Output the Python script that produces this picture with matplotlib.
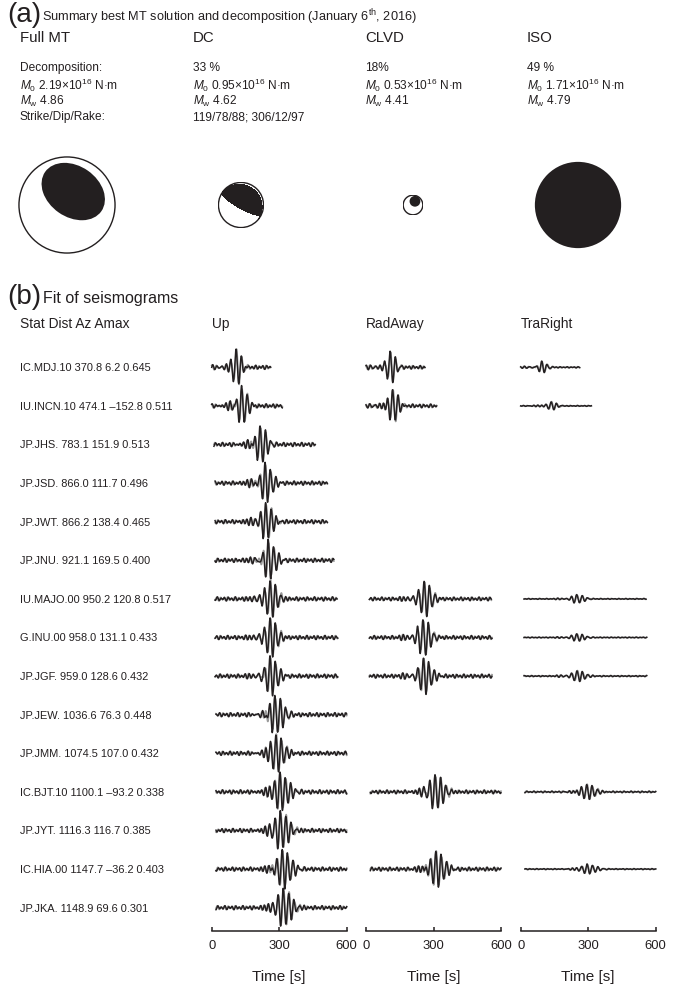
import numpy as np
import matplotlib.pyplot as plt
from matplotlib.patches import Circle, Ellipse

plt.rcParams['font.family'] = ['Liberation Sans', 'DejaVu Sans']
plt.rcParams['mathtext.fontset'] = 'custom'
plt.rcParams['mathtext.rm'] = 'Liberation Sans'
plt.rcParams['mathtext.it'] = 'Liberation Sans:italic'

INK = '#231f20'
SYN = '#9a9a9a'

# ---- (a) decomposition summary ----
components = ["Full MT", "DC", "CLVD", "ISO"]
decomposition = ["Decomposition:", "33 %", "18%", "49 %"]
m0 = [2.19, 0.95, 0.53, 1.71]          # x 10^16 N.m
mw = [4.86, 4.62, 4.41, 4.79]
sdr_text = "119/78/88; 306/12/97"
dc_strike, dc_dip, dc_rake = 119, 78, 88

# ---- (b) stations ----
stations = ["IC.MDJ.10", "IU.INCN.10", "JP.JHS.", "JP.JSD.", "JP.JWT.", "JP.JNU.",
            "IU.MAJO.00", "G.INU.00", "JP.JGF.", "JP.JEW.", "JP.JMM.", "IC.BJT.10",
            "JP.JYT.", "IC.HIA.00", "JP.JKA."]
dist = [370.8, 474.1, 783.1, 866.0, 866.2, 921.1, 950.2, 958.0, 959.0,
        1036.6, 1074.5, 1100.1, 1116.3, 1147.7, 1148.9]
azim = [6.2, -152.8, 151.9, 111.7, 138.4, 169.5, 120.8, 131.1, 128.6,
        76.3, 107.0, -93.2, 116.7, -36.2, 69.6]
amax = [0.645, 0.511, 0.513, 0.496, 0.465, 0.400, 0.517, 0.433, 0.432,
        0.448, 0.432, 0.338, 0.385, 0.403, 0.301]

# time windows [s], arrival and duration of the main wave packet per component
win_start = [0, 0, 10, 15, 15, 15, 15, 15, 15, 19, 19, 19, 19, 19, 19]
win_end = [262, 314, 460, 514, 514, 543, 557, 560, 560, 600, 600, 600, 600, 600, 600]
packet_width = [18, 20, 22, 24, 24, 25, 25, 25, 26, 28, 28, 30, 30, 30, 30]
nan = np.nan
peak_up = [108, 133, 215, 237, 240, 251, 259, 259, 259, 281, 285, 303, 305, 313, 318]
peak_rad = [107, 118, nan, nan, nan, nan, 258, 253, 255, nan, nan, 307, nan, 310, nan]
peak_tra = [93, 135, nan, nan, nan, nan, 249, 249, 250, nan, nan, 293, nan, 295, nan]
amp_up = [1.0] * 15
amp_rad = [0.85, 0.9, nan, nan, nan, nan, 0.9, 0.95, 0.95, nan, nan, 0.9, nan, 0.95, nan]
amp_tra = [0.3, 0.22, nan, nan, nan, nan, 0.22, 0.2, 0.3, nan, nan, 0.4, nan, 0.25, nan]

W, H = 683, 987
fig = plt.figure(figsize=(W / 100, H / 100), dpi=100)


def fx(x):
    return x / W


def fy(y):
    return 1 - y / H


def txt(x, y, s, size, ha='left'):
    fig.text(fx(x), fy(y), s, fontsize=size, va='center', ha=ha, color=INK)


# headline (a)
txt(7, 15, "(a)", 20)
txt(42, 17, r"Summary best MT solution and decomposition (January 6$^{\rm th}$, 2016)", 9.2)

col_x = [20, 193, 365, 527]
for i, cx in enumerate(col_x):
    txt(cx, 38, components[i], 10.8)
    txt(cx, 68, decomposition[i], 8.6)
    txt(cx, 85, r"$M_0$" + " %.2f×10$^{16}$ N·m" % m0[i], 8.6)
    txt(cx, 101, r"$M_{\rm w}$" + " %.2f" % mw[i], 8.6)
txt(col_x[0], 117, "Strike/Dip/Rake:", 8.6)
txt(col_x[1], 117, sdr_text, 8.6)


def ball_axes(cx, cy, r):
    ax = fig.add_axes([fx(cx - r), fy(cy + r), 2 * r / W, 2 * r / H])
    ax.set_xlim(-1.02, 1.02)
    ax.set_ylim(-1.02, 1.02)
    ax.axis('off')
    return ax


def dc_tensor(strike, dip, rake):
    s, d, r = np.radians([strike, dip, rake])
    mxx = -(np.sin(d) * np.cos(r) * np.sin(2 * s) + np.sin(2 * d) * np.sin(r) * np.sin(s) ** 2)
    mxy = np.sin(d) * np.cos(r) * np.cos(2 * s) + 0.5 * np.sin(2 * d) * np.sin(r) * np.sin(2 * s)
    mxz = -(np.cos(d) * np.cos(r) * np.cos(s) + np.cos(2 * d) * np.sin(r) * np.sin(s))
    myy = np.sin(d) * np.cos(r) * np.sin(2 * s) - np.sin(2 * d) * np.sin(r) * np.cos(s) ** 2
    myz = -(np.cos(d) * np.cos(r) * np.sin(s) - np.cos(2 * d) * np.sin(r) * np.cos(s))
    mzz = np.sin(2 * d) * np.sin(r)
    return np.array([[mxx, mxy, mxz], [mxy, myy, myz], [mxz, myz, mzz]])


ball_y = 206
radius = [49, 23, 10, 44]

# full MT
ax = ball_axes(67, ball_y, radius[0])
ax.add_patch(Ellipse((0.13, 0.28), 2 * 35 / 49, 2 * 26 / 49, angle=-35, color=INK, lw=0))
ax.add_patch(Circle((0, 0), 1, fill=False, ec=INK, lw=1.0))

# DC, lower hemisphere equal-area projection
ax = ball_axes(241, ball_y, radius[1])
g = np.linspace(-1, 1, 401)
X, Y = np.meshgrid(g, g)
rho = np.hypot(X, Y)
inc = 2 * np.arcsin(np.clip(rho / np.sqrt(2), 0, 1))
az = np.arctan2(X, Y)
v = np.stack([np.sin(inc) * np.cos(az), np.sin(inc) * np.sin(az), np.cos(inc)])
M = dc_tensor(dc_strike, dc_dip, dc_rake)
amp = np.einsum('iab,ij,jab->ab', v, M, v)
amp = np.ma.masked_where(rho > 1, amp)
ax.contourf(X, Y, amp, levels=[0, 10], colors=[INK])
ax.add_patch(Circle((0, 0), 1, fill=False, ec=INK, lw=1.0))

# CLVD
ax = ball_axes(413, ball_y, radius[2])
ax.add_patch(Circle((0.2, 0.38), 0.55, color=INK, lw=0))
ax.add_patch(Circle((0, 0), 1, fill=False, ec=INK, lw=1.0))

# ISO
ax = ball_axes(578, ball_y, radius[3])
ax.add_patch(Circle((0, 0), 1, color=INK, lw=0))

# headline (b)
txt(7, 297, "(b)", 20)
txt(43, 299, "Fit of seismograms", 11.5)
txt(20, 324, "Stat Dist Az Amax", 9.9)

row0, row_gap = 368.3, 38.6
axis_px = 931.7
top_px = 335.0
panels = [("Up", 211.7, peak_up, amp_up),
          ("RadAway", 366.0, peak_rad, amp_rad),
          ("TraRight", 520.7, peak_tra, amp_tra)]
panel_w = 135.0

for i, name in enumerate(stations):
    lab = "%s %.1f %.1f %.3f" % (name, dist[i], azim[i], amax[i])
    txt(20, row0 + i * row_gap, lab.replace("-", "\u2013"), 7.9)


def packet(t, tp, width, period, ph):
    sig = np.where(t < tp, 0.8 * width, 1.2 * width)
    env = np.exp(-0.5 * ((t - tp) / sig) ** 2)
    main = env * np.cos(2 * np.pi * (t - tp) / period)
    pre = 0.16 * np.exp(-0.5 * ((t - (tp - 60)) / 25) ** 2) * np.sin(2 * np.pi * t / 20 + ph)
    coda = 0.07 * np.sin(2 * np.pi * t / 16.0 + ph) + 0.04 * np.sin(2 * np.pi * t / 27.0 + 2 * ph)
    return main + pre + coda


for p, (title, left, peaks, amps) in enumerate(panels):
    ax = fig.add_axes([fx(left), fy(axis_px), panel_w / W, (axis_px - top_px) / H])
    ax.set_xlim(0, 600)
    ax.set_ylim(-(axis_px - row0) / row_gap, (row0 - top_px) / row_gap)
    for side in ['left', 'right', 'top']:
        ax.spines[side].set_visible(False)
    ax.spines['bottom'].set_linewidth(1.1)
    ax.spines['bottom'].set_color(INK)
    ax.set_yticks([])
    ax.set_xticks([0, 300, 600])
    ax.tick_params(axis='x', direction='in', length=3, width=1.1, pad=6,
                   labelsize=9.4, colors=INK)
    ax.patch.set_alpha(0)
    txt(left, 324, title, 9.9)
    txt(left + panel_w / 2, 977, "Time [s]", 11, ha='center')
    for i in range(len(stations)):
        if np.isnan(peaks[i]):
            continue
        t = np.arange(win_start[i], win_end[i] + 0.5, 1.0)
        obs = packet(t, peaks[i], packet_width[i], 24.0, 0.7 * i + p)
        syn = 0.92 * packet(t, peaks[i] + 2.0, packet_width[i], 24.0, 0.7 * i + p + 0.8)
        scale = 0.5 * amps[i]
        ax.plot(t, -i + scale * syn, color=SYN, lw=1.2, clip_on=False)
        ax.plot(t, -i + scale * obs, color=INK, lw=1.05, clip_on=False)

fig.savefig("out.png", dpi=100)
